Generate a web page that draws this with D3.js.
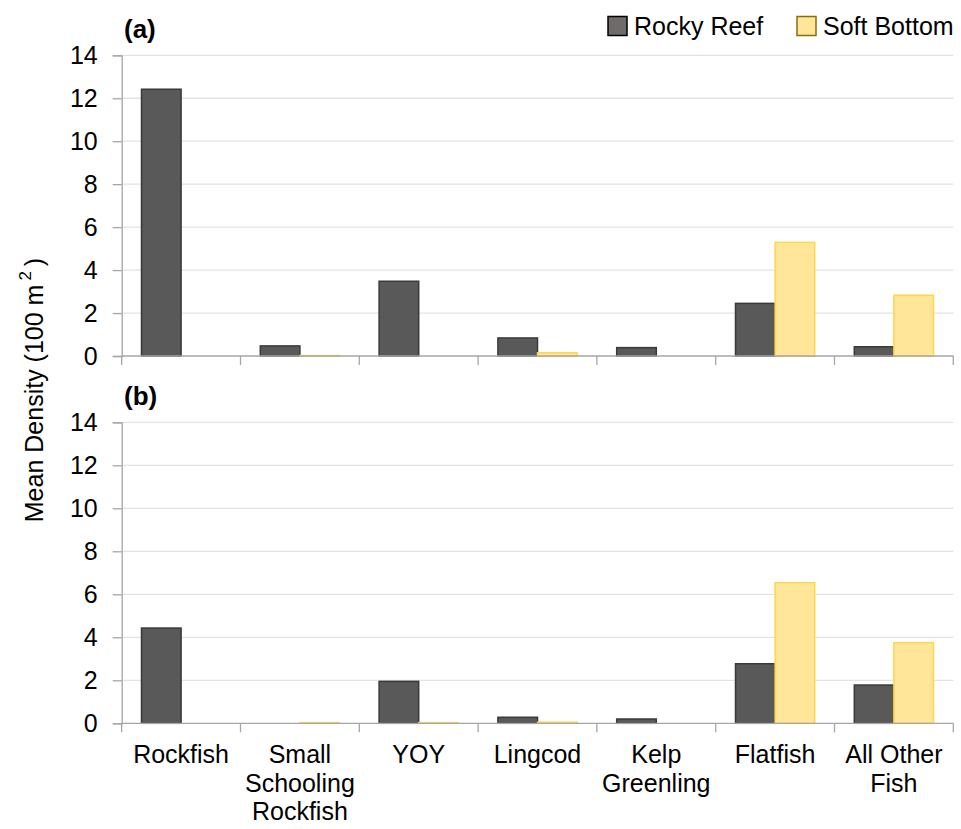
<!DOCTYPE html>
<html><head><meta charset="utf-8">
<script src="https://cdn.jsdelivr.net/npm/d3@7"></script>
<style>body{margin:0;background:#fff}svg{display:block}text{font-family:"Liberation Sans",Arial,sans-serif}</style>
</head><body>
<script>
const categories = [["Rockfish"],["Small","Schooling","Rockfish"],["YOY"],["Lingcod"],["Kelp","Greenling"],["Flatfish"],["All Other","Fish"]];
const series = ["Rocky Reef","Soft Bottom"];
const panelA_rocky = [12.42,0.47,3.48,0.84,0.39,2.45,0.43];
const panelA_soft  = [0,0.02,0,0.15,0,5.29,2.83];
const panelB_rocky = [4.43,0,1.95,0.28,0.2,2.77,1.78];
const panelB_soft  = [0,0.03,0.03,0.05,0,6.54,3.75];
const yTicks = [0,2,4,6,8,10,12,14];

const W=961,H=829,FS=25;
const svg=d3.select("body").append("svg").attr("width",W).attr("height",H);
const x0=d3.scaleBand().domain(d3.range(categories.length)).range([121.7,953.3]).paddingInner(0).paddingOuter(0);
const x1=d3.scaleBand().domain(series).range([0,x0.bandwidth()]).paddingInner(0).paddingOuter(0.5);
const fills={"Rocky Reef":"#595959","Soft Bottom":"#FFE699"};
const strokes={"Rocky Reef":"#3a3a3a","Soft Bottom":"#FFD54F"};

function panel(top,bottom,rocky,soft,label,labY){
  const y=d3.scaleLinear().domain([0,14]).range([bottom,top]);
  const g=svg.append("g");
  g.selectAll(".grid").data(yTicks.filter(d=>d>0)).enter().append("line")
    .attr("x1",121.7).attr("x2",953.3).attr("y1",d=>y(d)).attr("y2",d=>y(d))
    .attr("stroke","#e3e3e3").attr("stroke-width",1.3);
  const ya=g.append("g").attr("transform","translate(121.7,0)")
    .call(d3.axisLeft(y).tickValues(yTicks).tickSize(9).tickPadding(15));
  ya.select(".domain").attr("stroke","#a6a6a6").attr("stroke-width",1.3);
  ya.selectAll(".tick line").attr("stroke","#a6a6a6").attr("stroke-width",1.3);
  ya.selectAll("text").attr("font-size",FS).attr("fill","#000").attr("font-family","Liberation Sans, Arial, sans-serif");
  const data=categories.map((c,i)=>({i,vals:[{s:series[0],v:rocky[i]},{s:series[1],v:soft[i]}]}));
  const cg=g.selectAll(".cat").data(data).enter().append("g").attr("transform",d=>`translate(${x0(d.i)},0)`);
  cg.selectAll("rect").data(d=>d.vals).enter().append("rect")
    .attr("x",d=>x1(d.s)).attr("width",x1.bandwidth())
    .attr("y",d=>y(d.v)).attr("height",d=>Math.max(0,y(0)-y(d.v)))
    .attr("fill",d=>fills[d.s]).attr("stroke",d=>strokes[d.s]).attr("stroke-width",1.5);
  const xa=g.append("g").attr("transform",`translate(0,${bottom})`);
  xa.append("line").attr("x1",121.7).attr("x2",953.3).attr("y1",0).attr("y2",0).attr("stroke","#a6a6a6").attr("stroke-width",1.3);
  const bounds=d3.range(categories.length+1).map(i=>i<categories.length?x0(i):x0(i-1)+x0.bandwidth());
  xa.selectAll(".xt").data(bounds).enter().append("line").attr("x1",d=>d).attr("x2",d=>d).attr("y1",0).attr("y2",9)
    .attr("stroke","#a6a6a6").attr("stroke-width",1.3);
  g.append("text").attr("x",124).attr("y",labY).attr("font-size",26).attr("font-weight","bold").text(label);
}
panel(55.3,356,panelA_rocky,panelA_soft,"(a)",38);
panel(422.3,723.3,panelB_rocky,panelB_soft,"(b)",405);
const lab=svg.append("g");
categories.forEach((lines,i)=>{
  const cx=x0(i)+x0.bandwidth()/2;
  const t=lab.append("text").attr("x",cx).attr("y",763).attr("text-anchor","middle").attr("font-size",FS);
  lines.forEach((l,k)=>t.append("tspan").attr("x",cx).attr("dy",k===0?0:28.5).text(l));
});
const yt=svg.append("text").attr("transform","translate(43,390) rotate(-90)").attr("text-anchor","middle").attr("font-size",FS);
yt.append("tspan").text("Mean Density (100 m");
yt.append("tspan").attr("font-size",17).attr("dx",4).attr("dy",-12).text("2");
yt.append("tspan").attr("dx",5).attr("dy",12).text(")");
const leg=svg.append("g");
const legItems=[{s:"Rocky Reef",x:608,fill:"#6f6b6b",stroke:"#000"},{s:"Soft Bottom",x:797,fill:"#FFE699",stroke:"#8a6d0b"}];
legItems.forEach(d=>{
  leg.append("rect").attr("x",d.x).attr("y",16.5).attr("width",19).attr("height",19).attr("fill",d.fill).attr("stroke",d.stroke).attr("stroke-width",1.5);
  leg.append("text").attr("x",d.x+26).attr("y",35).attr("font-size",FS).text(d.s);
});
</script>
</body></html>
